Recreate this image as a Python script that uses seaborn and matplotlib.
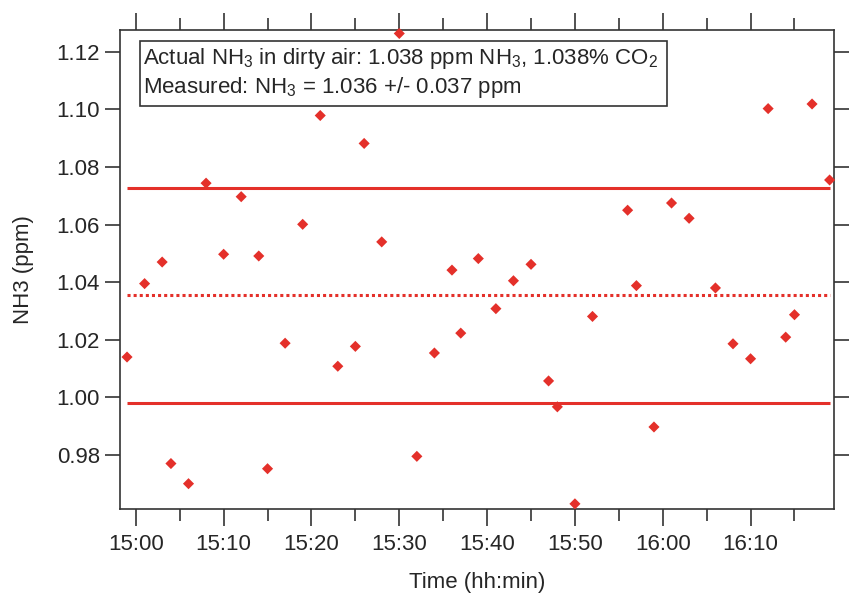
import numpy as np
import pandas as pd
import matplotlib
matplotlib.use("Agg")
import matplotlib.pyplot as plt
import matplotlib.dates as mdates
from matplotlib.patches import Rectangle
import seaborn as sns

# ---- data ----
times = ["14:59", "15:01", "15:03", "15:04", "15:06", "15:08", "15:10", "15:12",
         "15:14", "15:15", "15:17", "15:19", "15:21", "15:23", "15:25", "15:26",
         "15:28", "15:30", "15:32", "15:34", "15:36", "15:37", "15:39", "15:41",
         "15:43", "15:45", "15:47", "15:48", "15:50", "15:52", "15:56", "15:57",
         "15:59", "16:01", "16:03", "16:06", "16:08", "16:10", "16:12", "16:14",
         "16:15", "16:17", "16:19"]
nh3 = [1.0140, 1.0395, 1.0470, 0.9770, 0.9700, 1.0744, 1.0497, 1.0697,
       1.0491, 0.9752, 1.0188, 1.0601, 1.0979, 1.0108, 1.0177, 1.0882,
       1.0540, 1.1264, 0.9795, 1.0154, 1.0442, 1.0223, 1.0482, 1.0308,
       1.0405, 1.0462, 1.0057, 0.9967, 0.9630, 1.0281, 1.0650, 1.0388,
       0.9897, 1.0675, 1.0622, 1.0380, 1.0186, 1.0134, 1.1003, 1.0209,
       1.0287, 1.1019, 1.0755]
mean_val = 1.0355
std_val = 0.0373
y_ticks = [0.98, 1.00, 1.02, 1.04, 1.06, 1.08, 1.10, 1.12]
line1 = r"Actual $\mathregular{NH_3}$ in dirty air: 1.038 ppm $\mathregular{NH_3}$, 1.038% $\mathregular{CO_2}$"
line2 = r"Measured: $\mathregular{NH_3}$ = 1.036 +/- 0.037 ppm"

df = pd.DataFrame({"time": pd.to_datetime(["2000-01-01 " + t for t in times]),
                   "nh3": nh3})

sns.set_style("white")
plt.rcParams["font.family"] = ["Liberation Sans", "DejaVu Sans"]
plt.rcParams["mathtext.fontset"] = "custom"
plt.rcParams["mathtext.rm"] = "Liberation Sans"
plt.rcParams["mathtext.it"] = "Liberation Sans:italic"
plt.rcParams["mathtext.bf"] = "Liberation Sans:bold"

RED = "#E4302A"
DARK = "#333333"

fig = plt.figure(figsize=(8.59, 5.98), dpi=100)
ax = fig.add_axes([0.1397, 0.1488, 0.9709 - 0.1397, 0.9498 - 0.1488])

sns.scatterplot(data=df, x="time", y="nh3", marker="D", s=32, color=RED,
                edgecolor="none", ax=ax, zorder=3, clip_on=False)

t0, t1 = df["time"].min(), df["time"].max()
ax.hlines([mean_val + std_val, mean_val - std_val], t0, t1, colors=RED, lw=2.2, zorder=2)
ax.hlines([mean_val], t0, t1, colors=RED, lw=2.2, linestyles=(0, (1, 1)), zorder=2)

ax.set_xlim(pd.Timestamp("2000-01-01 14:58:12"), pd.Timestamp("2000-01-01 16:19:30"))
ax.set_ylim(0.9612, 1.1276)
ax.set_yticks(y_ticks)
ax.set_yticklabels([f"{v:.2f}" for v in y_ticks])
ax.xaxis.set_major_locator(mdates.MinuteLocator(byminute=range(0, 60, 10)))
ax.xaxis.set_minor_locator(mdates.MinuteLocator(byminute=range(5, 60, 10)))
ax.xaxis.set_major_formatter(mdates.DateFormatter("%H:%M"))

for sp in ax.spines.values():
    sp.set_color(DARK)
    sp.set_linewidth(1.2)

ax.tick_params(axis="x", which="major", direction="out", length=12, width=1.2,
               color=DARK, labelsize=16, pad=6, top=True, bottom=True)
ax.tick_params(axis="x", which="minor", direction="out", length=8.5, width=1.2,
               color=DARK, top=True, bottom=True)
ax.tick_params(axis="y", which="major", direction="out", length=10.5, width=1.2,
               color=DARK, labelsize=16, pad=4, left=True, right=True)

ax.set_xlabel("Time (hh:min)", fontsize=16)
ax.set_ylabel("NH3 (ppm)", fontsize=16)
ax.xaxis.set_label_coords(0.5, -0.131)
ax.yaxis.set_label_coords(-0.121, 0.5)

# annotation box
ax.add_patch(Rectangle((0.028, 0.8413), 0.738, 0.1364, transform=ax.transAxes,
                       facecolor="white", edgecolor=DARK, lw=1.2, zorder=4))
ax.text(0.0322, 0.9284, line1, transform=ax.transAxes, fontsize=16,
        va="baseline", ha="left", zorder=5)
ax.text(0.0322, 0.8691, line2, transform=ax.transAxes, fontsize=16,
        va="baseline", ha="left", zorder=5)

fig.savefig("out.png", dpi=100, facecolor="white")
